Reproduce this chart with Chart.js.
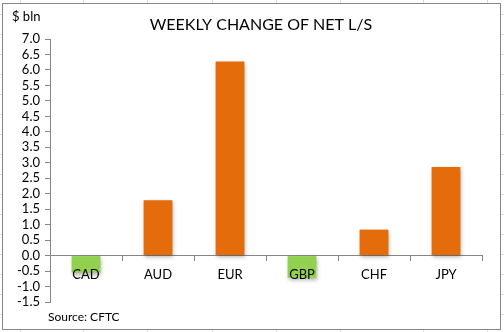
<!DOCTYPE html>
<html>
<head>
<meta charset="utf-8">
<script src="https://cdn.jsdelivr.net/npm/chart.js@4"></script>
<style>
  html, body { margin: 0; padding: 0; }
  body {
    width: 504px; height: 332px; position: relative; overflow: hidden;
    background-color: #fff;
    /* spreadsheet cell lines behind the chart */
    background-image:
      repeating-linear-gradient(to bottom, transparent 0 14px, #dadada 14px 15px, transparent 15px 20px),
      linear-gradient(to right, transparent 20px, #dadada 20px 21px, transparent 21px 83px, #dadada 83px 84px,
        transparent 84px 147px, #dadada 147px 148px, transparent 148px 212px, #dadada 212px 213px,
        transparent 213px 276px, #dadada 276px 277px, transparent 277px 340px, #dadada 340px 341px,
        transparent 341px 423px, #dadada 423px 424px, transparent 424px 487px, #dadada 487px 488px, transparent 488px);
  }
  #frame {
    position: absolute; left: 2px; top: 3px; width: 497px; height: 325px;
    border: 1px solid #868686; background: #fff;
  }
  #flowChart { position: absolute; left: 0; top: 0; }
</style>
</head>
<body>
<div id="frame"></div>
<canvas id="flowChart" width="504" height="332"></canvas>
<script>
// Weekly change of net long/short positions, $ bln
const currencies = ['CAD', 'AUD', 'EUR', 'GBP', 'CHF', 'JPY'];
const netChange = [-0.55, 1.79, 6.27, -0.72, 0.84, 2.86];
const yTicks = [-1.5, 7.0];
const tickStep = 0.5;

const ORANGE = '#E46C0A';
const GREEN = '#92D050';
const AXIS = '#868686';
const FONT = 'Lato, "Liberation Sans", sans-serif';

// Titles and notes drawn on the canvas
const textPlugin = {
    id: 'chartText',
    afterDraw(chart) {
        const ctx = chart.ctx;
        ctx.save();
        ctx.fillStyle = '#000';
        ctx.textBaseline = 'alphabetic';
        ctx.textAlign = 'center';
        ctx.font = '16px ' + FONT;
        ctx.fillText('WEEKLY CHANGE OF NET L/S', 261, 30);
        ctx.textAlign = 'left';
        ctx.font = '13px ' + FONT;
        ctx.fillText('$ bln', 12, 21);
        ctx.font = '12px ' + FONT;
        ctx.fillText('Source: CFTC', 48, 321);
        ctx.restore();
    }
};

// Soft drop shadow under the bars
const shadowPlugin = {
    id: 'barShadow',
    beforeDatasetsDraw(chart) {
        const ctx = chart.ctx;
        ctx.save();
        ctx.shadowColor = 'rgba(0,0,0,0.3)';
        ctx.shadowBlur = 4;
        ctx.shadowOffsetX = 1;
        ctx.shadowOffsetY = 2;
    },
    afterDatasetsDraw(chart) {
        chart.ctx.restore();
    }
};

const ctx = document.getElementById('flowChart').getContext('2d');
const flowChart = new Chart(ctx, {
    type: 'bar',
    data: {
        labels: currencies,
        datasets: [{
            data: netChange,
            backgroundColor: netChange.map(v => v < 0 ? GREEN : ORANGE),
            borderWidth: 0,
            categoryPercentage: 1,
            barPercentage: 0.4
        }]
    },
    options: {
        responsive: false,
        animation: false,
        devicePixelRatio: 1,
        layout: { padding: { top: 39, right: 22, bottom: 30, left: 0 }, autoPadding: false },
        plugins: {
            legend: { display: false },
            tooltip: { enabled: false }
        },
        scales: {
            x: {
                position: { y: 0 },
                offset: true,
                grid: {
                    offset: true,
                    drawOnChartArea: false,
                    drawTicks: true,
                    tickLength: 5,
                    color: AXIS
                },
                border: { display: true, color: AXIS, width: 1 },
                ticks: {
                    z: 1,
                    color: '#000',
                    padding: 6,
                    autoSkip: false,
                    maxRotation: 0,
                    font: { family: FONT, size: 13 }
                }
            },
            y: {
                min: yTicks[0],
                max: yTicks[1],
                afterFit(scale) { scale.width = 50; },
                grid: {
                    drawOnChartArea: false,
                    drawTicks: true,
                    tickLength: 5,
                    color: AXIS
                },
                border: { display: true, color: AXIS, width: 1 },
                ticks: {
                    stepSize: tickStep,
                    autoSkip: false,
                    color: '#000',
                    padding: 5,
                    font: { family: FONT, size: 13 },
                    callback: v => Number(v).toFixed(1)
                }
            }
        }
    },
    plugins: [shadowPlugin, textPlugin]
});
</script>
</body>
</html>
